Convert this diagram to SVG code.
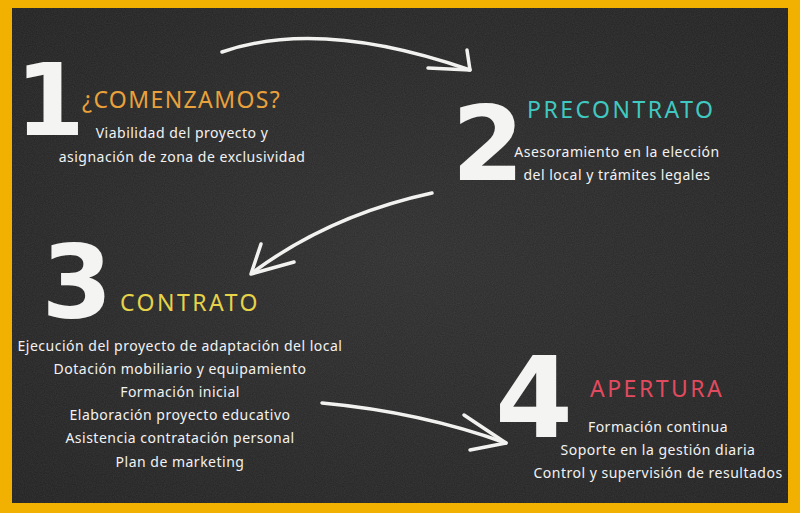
<svg xmlns="http://www.w3.org/2000/svg" width="800" height="513" viewBox="0 0 800 513">
<defs>
<filter id="grain" x="0" y="0" width="100%" height="100%">
<feTurbulence type="fractalNoise" baseFrequency="0.9" numOctaves="2" seed="3" result="n"/>
<feColorMatrix in="n" type="matrix" values="0 0 0 0 1  0 0 0 0 1  0 0 0 0 1  0 0 0 0.09 0"/>
</filter>
<radialGradient id="board" cx="50%" cy="50%" r="70%">
<stop offset="0" stop-color="#2e2e2e"/>
<stop offset="1" stop-color="#212121"/>
</radialGradient>
<style>
.num{font-family:"DejaVu Sans",sans-serif;font-weight:bold;fill:#f4f4f2;text-anchor:middle}
.head{font-family:"Noto Sans",sans-serif;font-size:23px;letter-spacing:2.5px}
.body{font-family:"Noto Sans",sans-serif;font-size:14px;letter-spacing:0.5px;fill:#f2f2f2;text-anchor:middle}
.chalk{fill:none;stroke:#f2f2f0;stroke-width:3.5;stroke-linecap:round;stroke-linejoin:round}
</style>
</defs>
<rect x="0" y="0" width="800" height="513" fill="#F2B100"/>
<rect x="12" y="8" width="776" height="495" fill="url(#board)"/>
<rect x="12" y="8" width="776" height="495" filter="url(#grain)"/>

<g id="connectors">
<path class="chalk" d="M222,52 Q320,18 470,70"/>
<path class="chalk" d="M428,68 L470,70 L467,50"/>
<path class="chalk" d="M432,193 Q330,215 252,273"/>
<path class="chalk" d="M261,244 L251,274 L294,262"/>
<path class="chalk" d="M322,403 Q420,412 506,443"/>
<path class="chalk" d="M464,415 L506,443 L470,450"/>
</g>

<g id="step1">
<text class="num" x="50" y="135" font-size="100">1</text>
<text class="head" x="82" y="108" fill="#E9A23B" style="letter-spacing:1.4px">¿COMENZAMOS?</text>
<text class="body" x="182" y="138">Viabilidad del proyecto y</text>
<text class="body" x="182" y="162">asignación de zona de exclusividad</text>
</g>

<g id="step2">
<text class="num" x="488" y="180" font-size="104">2</text>
<text class="head" x="527" y="118" fill="#40C9C0">PRECONTRATO</text>
<text class="body" x="617" y="157">Asesoramiento en la elección</text>
<text class="body" x="617" y="180">del local y trámites legales</text>
</g>

<g id="step3">
<text class="num" x="77" y="318" font-size="102">3</text>
<text class="head" x="120" y="311" fill="#E6D34A">CONTRATO</text>
<text class="body" x="180" y="351">Ejecución del proyecto de adaptación del local</text>
<text class="body" x="180" y="374">Dotación mobiliario y equipamiento</text>
<text class="body" x="180" y="397">Formación inicial</text>
<text class="body" x="180" y="420">Elaboración proyecto educativo</text>
<text class="body" x="180" y="443">Asistencia contratación personal</text>
<text class="body" x="180" y="467">Plan de marketing</text>
</g>

<g id="step4">
<text class="num" x="534" y="437" font-size="112">4</text>
<text class="head" x="590" y="397" fill="#E24A5F">APERTURA</text>
<text class="body" x="658" y="432">Formación continua</text>
<text class="body" x="658" y="455">Soporte en la gestión diaria</text>
<text class="body" x="658" y="478">Control y supervisión de resultados</text>
</g>
</svg>
